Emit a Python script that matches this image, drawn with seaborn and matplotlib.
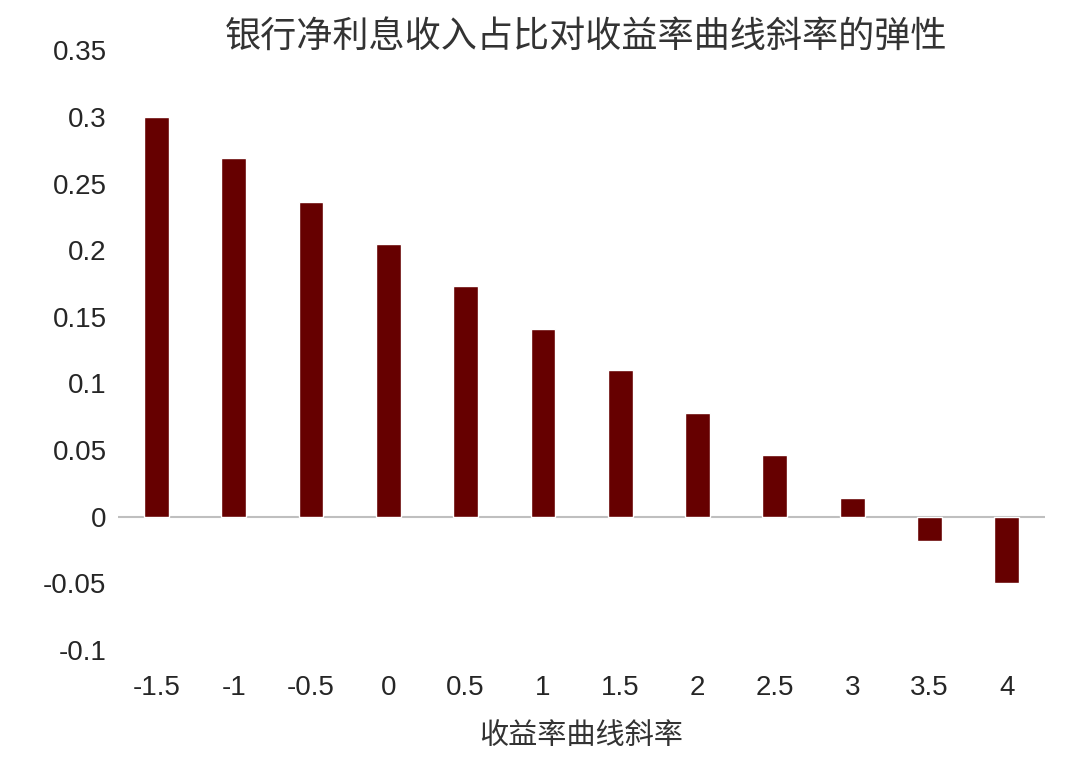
import numpy as np
import pandas as pd
import matplotlib
matplotlib.use('Agg')
import matplotlib.pyplot as plt
import seaborn as sns

slopes = ['-1.5', '-1', '-0.5', '0', '0.5', '1', '1.5', '2', '2.5', '3', '3.5', '4']
elasticity = [0.300, 0.269, 0.236, 0.205, 0.173, 0.141, 0.110, 0.078, 0.046, 0.014, -0.018, -0.050]

sns.set_style('white')
plt.rcParams['font.family'] = ['Liberation Sans', 'Noto Sans CJK SC', 'DejaVu Sans']

df = pd.DataFrame({'slope': slopes, 'elasticity': elasticity})

fig = plt.figure(figsize=(10.8, 7.73), dpi=100)
ax = fig.add_axes([0.109, 0.159, 0.859, 0.776])
sns.barplot(data=df, x='slope', y='elasticity', color='#660000', saturation=1,
            width=0.32, ax=ax)

ax.set_ylim(-0.1, 0.35)
ax.set_yticks(np.arange(-0.1, 0.351, 0.05))
ax.set_yticklabels(['-0.1', '-0.05', '0', '0.05', '0.1', '0.15', '0.2', '0.25', '0.3', '0.35'])
for s in ax.spines.values():
    s.set_visible(False)
ax.axhline(0, color='#bfbfbf', lw=1.5, zorder=0)
ax.tick_params(axis='both', length=0, labelsize=20, pad=8)
ax.tick_params(axis='x', pad=18)
ax.set_xlabel('收益率曲线斜率', fontsize=21, labelpad=14,
              family=['Noto Sans CJK SC', 'DejaVu Sans'], color='#333333')
ax.set_ylabel('')
fig.text(0.543, 0.94, '银行净利息收入占比对收益率曲线斜率的弹性', ha='center', fontsize=26,
         family=['Noto Sans CJK SC', 'DejaVu Sans'], color='#333333')

plt.savefig('out.png', dpi=100)
